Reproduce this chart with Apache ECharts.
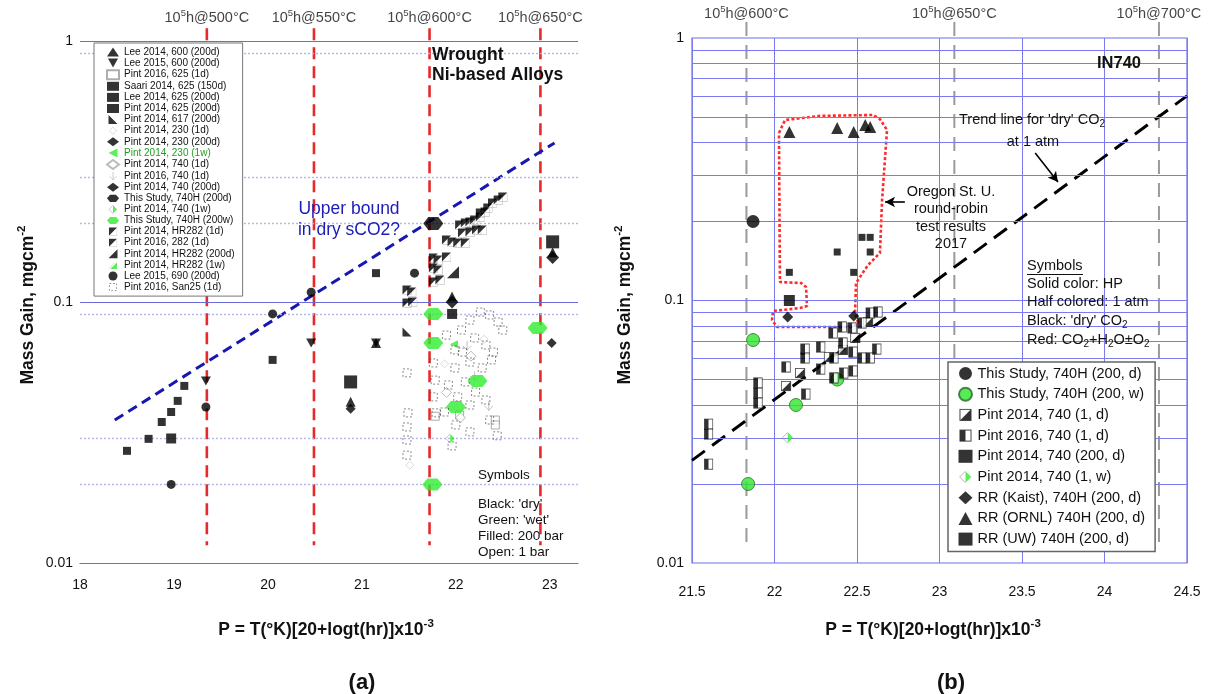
<!DOCTYPE html>
<html>
<head>
<meta charset="utf-8">
<script src="https://cdn.jsdelivr.net/npm/echarts@6/dist/echarts.min.js"></script>
<style>
  html, body { margin: 0; padding: 0; background: #fff; }
  #chart { width: 1209px; height: 694px; }
</style>
</head>
<body>
<div id="chart"></div>
<script>
const FONT = "'Liberation Sans', Arial, Helvetica, sans-serif";
const GREEN = '#2fec2f';

// ---------- Panel (a): wrought Ni-based alloys, [P, mass gain] ----------
const lee2014_600      = [[21.15, 0.0697], [20.88, 0.0415], [21.96, 0.105], [23.03, 0.155]];
const lee2015_600      = [[19.34, 0.0498], [20.46, 0.0697], [21.15, 0.0697]];
const pint2016_625_1d  = [[21.78, 0.0365], [22.04, 0.0369], [22.42, 0.0353], [22.42, 0.0338]];
const saari2014_625    = [[18.50, 0.0269], [18.73, 0.0299], [18.87, 0.0347], [18.97, 0.0379],
                          [19.04, 0.0418], [19.11, 0.0477], [20.05, 0.060], [21.15, 0.129]];
const lee2014_625      = [[18.97, 0.030], [21.96, 0.090]];
const pint2014_625     = [[20.88, 0.0494], [23.03, 0.170]];
const pint2014_617     = [[21.48, 0.0768]];
const pint2014_230_1d  = [[21.51, 0.0237], [22.30, 0.072], [21.88, 0.058]];
const pint2014_230_200d = [[20.88, 0.039], [23.02, 0.0697]];
const pint2014_230_1w  = [[21.98, 0.0689]];
const pint2014_740_1d  = [[21.90, 0.045], [22.16, 0.062], [22.05, 0.036]];
const pint2016_740_1d  = [[22.12, 0.068], [22.20, 0.052], [22.35, 0.040]];
const pint2014_740_200d = [[21.96, 0.100], [23.03, 0.148]];
const study740H_200d   = [[21.76, 0.200]];
const pint2014_740_1w  = [[21.94, 0.030]];
const study740H_200w   = [[21.76, 0.090], [21.76, 0.0697], [22.23, 0.0498], [22.00, 0.0396],
                          [22.87, 0.0795], [21.75, 0.020]];
const pint2014_hr282_1d = [[21.76, 0.1475], [21.81, 0.1449], [21.90, 0.1488], [21.76, 0.135],
                           [21.81, 0.1326], [21.76, 0.1193], [21.83, 0.1214], [21.48, 0.1112],
                           [21.53, 0.1092], [21.48, 0.0991], [21.54, 0.100]];
const pint2016_282_1d  = [[22.39, 0.2394], [22.45, 0.2459], [22.50, 0.2525], [22.26, 0.2193],
                          [22.31, 0.2212], [22.34, 0.2292], [22.15, 0.2025], [22.20, 0.2062],
                          [22.26, 0.2117], [22.04, 0.1972], [22.10, 0.2007], [22.07, 0.1838],
                          [22.15, 0.1854], [22.22, 0.1887], [22.28, 0.1887], [21.90, 0.1728],
                          [21.96, 0.1698], [22.02, 0.1683], [22.10, 0.1683]];
const pint2014_hr282_200d = [[21.97, 0.130]];
const pint2014_hr282_1w = [];
const lee2015_690      = [[18.97, 0.020], [19.34, 0.0396], [20.05, 0.090], [20.46, 0.109], [21.56, 0.129]];
const pint2016_san25   = [[21.48, 0.0535], [21.49, 0.0376], [21.48, 0.0332], [21.48, 0.0296],
                          [21.76, 0.0584], [21.78, 0.0502], [21.76, 0.0433], [21.79, 0.0376],
                          [21.90, 0.0747], [21.99, 0.0655], [22.06, 0.0781], [22.15, 0.0853],
                          [22.26, 0.0915], [22.36, 0.0892], [22.45, 0.0838], [22.50, 0.0781],
                          [22.20, 0.0728], [22.32, 0.0684], [22.40, 0.0643], [22.07, 0.0643],
                          [22.15, 0.0589], [22.28, 0.0559], [22.38, 0.060], [21.99, 0.0559],
                          [22.10, 0.0494], [22.21, 0.0452], [21.92, 0.0481], [22.02, 0.0433],
                          [22.15, 0.0403], [22.32, 0.0421], [21.88, 0.0379], [22.00, 0.0338],
                          [22.15, 0.0318], [22.36, 0.0353], [22.44, 0.0307], [21.96, 0.0281],
                          [21.48, 0.0259]];
const upperBoundDry    = [[18.37, 0.0353], [23.05, 0.407]];
const creepTempsA      = ['500', '550', '600', '650'];
const creepPA          = [19.35, 20.49, 21.72, 22.90];
const gridSolidA       = [1, 0.1];
const gridDottedA      = [0.9, 0.3, 0.2, 0.09, 0.03, 0.02];

// ---------- Panel (b): IN740 ----------
const studyB_dry    = [[21.87, 0.200]];
const studyB_wet    = [[21.87, 0.0707], [22.13, 0.040], [21.84, 0.020], [22.38, 0.050]];
const pintB_2014_1d = [[22.07, 0.0472], [22.155, 0.0529], [22.33, 0.0609], [22.415, 0.0648],
                       [22.49, 0.072], [22.567, 0.0828]];
const pintB_2016_1d = [[21.60, 0.0338], [21.60, 0.031], [21.60, 0.0238], [21.90, 0.0485],
                       [21.90, 0.0444], [21.90, 0.0407], [22.07, 0.0558], [22.19, 0.044],
                       [22.185, 0.0653], [22.185, 0.0604], [22.28, 0.0665], [22.28, 0.0548],
                       [22.36, 0.0604], [22.36, 0.0507], [22.42, 0.0529], [22.476, 0.0539],
                       [22.41, 0.0793], [22.355, 0.0752], [22.47, 0.0786], [22.415, 0.0689],
                       [22.476, 0.0636], [22.53, 0.0604], [22.58, 0.0604], [22.62, 0.0653],
                       [22.53, 0.0821], [22.58, 0.0896], [22.627, 0.0904]];
const pintB_2014_200d = [[22.09, 0.100]];
const pintB_2014_1w = [[22.08, 0.030]];
const rrKaist       = [[22.08, 0.0865], [22.48, 0.0873]];
const rrOrnl        = [[22.09, 0.438], [22.38, 0.454], [22.48, 0.438], [22.55, 0.466], [22.58, 0.458]];
const rrUw          = [[22.09, 0.128], [22.38, 0.153], [22.48, 0.128], [22.58, 0.153], [22.53, 0.174], [22.58, 0.174]];
const trendDry      = [[21.5, 0.0246], [24.5, 0.602]];
const rrRegion      = [[22.027, 0.4345], [22.064, 0.487], [22.276, 0.505], [22.597, 0.509],
                       [22.639, 0.491], [22.682, 0.446], [22.652, 0.2415], [22.639, 0.1517],
                       [22.567, 0.1365], [22.494, 0.1166], [22.488, 0.0896], [22.506, 0.0828],
                       [22.476, 0.0793], [22.015, 0.0793], [21.985, 0.0843], [21.991, 0.0912],
                       [22.155, 0.0936], [22.197, 0.0953], [22.191, 0.1126], [22.161, 0.1166],
                       [22.033, 0.1176], [22.027, 0.4345]];
const creepTempsB   = ['600', '650', '700'];
const creepPB       = [21.83, 23.09, 24.33];
const gridB         = [0.02, 0.03, 0.04, 0.05, 0.06, 0.07, 0.08, 0.09, 0.1,
                       0.2, 0.3, 0.4, 0.5, 0.6, 0.7, 0.8, 0.9];

// ---------- symbol shapes ----------
function svgIcon(body) {
  return 'image://data:image/svg+xml;charset=utf-8,' + encodeURIComponent(
    '<svg xmlns="http://www.w3.org/2000/svg" width="40" height="40" viewBox="0 0 20 20">' + body + '</svg>');
}
const SYM = {
  triDown: 'path://M0,0L10,0L5,9Z',
  hexagon: 'path://M5,0L15,0L20,6L15,12L5,12L0,6Z',
  triLL: 'path://M0,0L0,10L10,10Z',
  triLR: 'path://M10,0L10,10L0,10Z',
  triLeft: 'path://M10,0L0,5L10,10Z',
  dashSquare: svgIcon('<rect x="2" y="2" width="16" height="16" fill="none" stroke="#444" stroke-width="1.6" stroke-dasharray="4 4"/>'),
  thinArrow: svgIcon('<path d="M10 1V19M2 10L10 18L18 10" fill="none" stroke="#999" stroke-width="1.3"/>'),
  faintDiamond: svgIcon('<path d="M10 2L18 10L10 18L2 10Z" fill="none" stroke="#bbb" stroke-width="1.4"/>'),
  halfTriDark: svgIcon('<path d="M1 1H19L1 19Z" fill="#000"/><path d="M19 3V19H3" fill="none" stroke="#aaa" stroke-width="1.2"/>'),
  greenWedge: svgIcon('<path d="M19 4V19H4Z" fill="#2fec2f"/><path d="M1 19L13 5" stroke="#999" stroke-width="1"/>'),
  halfDiamondGreen: svgIcon('<path d="M10 1L19 10L10 19Z" fill="#2fec2f"/><path d="M10 1L1 10L10 19" fill="none" stroke="#999" stroke-width="1.4"/>'),
  halfDiag: svgIcon('<rect x="1.5" y="1.5" width="17" height="17" fill="#fff" stroke="#222" stroke-width="1.6"/><path d="M18.5 1.5V18.5H1.5Z" fill="#000"/>'),
  halfVert: svgIcon('<rect x="1.5" y="1.5" width="17" height="17" fill="#fff" stroke="#222" stroke-width="1.6"/><rect x="1.5" y="1.5" width="8.5" height="17" fill="#000"/>')
};

function pts(name, data, symbol, size, itemStyle, panel) {
  const s = {
    type: 'scatter', name, data, symbol, symbolSize: size,
    xAxisIndex: panel, yAxisIndex: panel, z: 5, silent: true,
    emphasis: { disabled: true }
  };
  if (itemStyle) s.itemStyle = itemStyle;
  return s;
}
function vline(x, top, bottom, lineStyle, panel) {
  return {
    type: 'line', data: [[x, top], [x, bottom]], symbol: 'none', clip: false,
    xAxisIndex: panel, yAxisIndex: panel, silent: true, z: 3, lineStyle
  };
}
const supRich = {
  n: { fontSize: 14.5, fontFamily: FONT, color: '#111', lineHeight: 18 },
  s: { fontSize: 9.5, fontFamily: FONT, color: '#111', verticalAlign: 'top' }
};
function creepLabels(xs, temps, panel, dist) {
  return {
    type: 'scatter', data: xs.map(x => [x, 1]), symbolSize: 1, clip: false,
    itemStyle: { color: 'rgba(0,0,0,0)' }, xAxisIndex: panel, yAxisIndex: panel, silent: true, z: 6,
    label: {
      show: true, position: 'top', distance: dist, rich: supRich,
      formatter: p => '{n|10}{s|5}{n|h@' + temps[p.dataIndex] + '°C}'
    }
  };
}

const panelASeries = [
  pts('Lee 2014, 600 (200d)', lee2014_600, 'triangle', 10, { color: '#000' }, 0),
  pts('Lee 2015, 600 (200d)', lee2015_600, SYM.triDown, [10, 9], { color: '#000' }, 0),
  pts('Pint 2016, 625 (1d)', pint2016_625_1d, 'rect', 8, { color: '#fff', borderColor: '#999', borderWidth: 1 }, 0),
  pts('Saari 2014, 625 (150d)', saari2014_625, 'rect', 8, { color: '#000' }, 0),
  pts('Lee 2014, 625 (200d)', lee2014_625, 'rect', 10, { color: '#000' }, 0),
  pts('Pint 2014, 625 (200d)', pint2014_625, 'rect', 13, { color: '#000' }, 0),
  pts('Pint 2014, 617 (200d)', pint2014_617, SYM.triLL, 9, { color: '#000' }, 0),
  pts('Pint 2014, 230 (1d)', pint2014_230_1d, SYM.faintDiamond, 10, null, 0),
  pts('Pint 2014, 230 (200d)', pint2014_230_200d, 'diamond', 10, { color: '#000' }, 0),
  pts('Pint 2014, 230 (1w)', pint2014_230_1w, SYM.triLeft, 8, { color: GREEN }, 0),
  pts('Pint 2014, 740 (1d)', pint2014_740_1d, 'diamond', 10, { color: '#fff', borderColor: '#aaa', borderWidth: 1 }, 0),
  pts('Pint 2016, 740 (1d)', pint2016_740_1d, SYM.thinArrow, 11, null, 0),
  pts('Pint 2014, 740 (200d)', pint2014_740_200d, 'diamond', 13, { color: '#000' }, 0),
  pts('This Study, 740H (200d)', study740H_200d, SYM.hexagon, [20, 13], { color: '#000' }, 0),
  pts('Pint 2014, 740 (1w)', pint2014_740_1w, SYM.halfDiamondGreen, 10, null, 0),
  pts('This Study, 740H (200w)', study740H_200w, SYM.hexagon, [20, 12], { color: GREEN }, 0),
  pts('Pint 2014, HR282 (1d)', pint2014_hr282_1d, SYM.halfTriDark, 10, null, 0),
  pts('Pint 2016, 282 (1d)', pint2016_282_1d, SYM.halfTriDark, 10, null, 0),
  pts('Pint 2014, HR282 (200d)', pint2014_hr282_200d, SYM.triLR, 12, { color: '#000' }, 0),
  pts('Pint 2014, HR282 (1w)', pint2014_hr282_1w, SYM.greenWedge, 11, null, 0),
  pts('Lee 2015, 690 (200d)', lee2015_690, 'circle', 9, { color: '#000' }, 0),
  pts('Pint 2016, San25 (1d)', pint2016_san25, SYM.dashSquare, 10, null, 0)
];
const panelBSeries = [
  pts('This Study, 740H (200, d)', studyB_dry, 'circle', 13, { color: '#000' }, 1),
  pts('This Study, 740H (200, w)', studyB_wet, 'circle', 13, { color: '#2ee62e', borderColor: '#2a6a2a', borderWidth: 1 }, 1),
  pts('Pint 2014, 740 (1, d)', pintB_2014_1d, SYM.halfDiag, 11, null, 1),
  pts('Pint 2016, 740 (1, d)', pintB_2016_1d, SYM.halfVert, [10, 12], null, 1),
  pts('Pint 2014, 740 (200, d)', pintB_2014_200d, 'rect', 11, { color: '#000' }, 1),
  pts('Pint 2014, 740 (1, w)', pintB_2014_1w, SYM.halfDiamondGreen, 12, null, 1),
  pts('RR (Kaist), 740H (200, d)', rrKaist, 'diamond', 11, { color: '#000' }, 1),
  pts('RR (ORNL) 740H (200, d)', rrOrnl, 'triangle', 12, { color: '#000' }, 1),
  pts('RR (UW) 740H (200, d)', rrUw, 'rect', 7, { color: '#000' }, 1)
];

const axisLabelStyle = { fontSize: 14, color: '#111', fontFamily: FONT };
const logFmt = v => String(+(+v).toPrecision(1));

const option = {
  animation: false,
  backgroundColor: '#fff',
  textStyle: { fontFamily: FONT },
  grid: [
    { left: 80, top: 41, width: 498, height: 522, outerBoundsMode: 'none', containLabel: false },
    { left: 692, top: 38, width: 495, height: 525, outerBoundsMode: 'none', containLabel: false,
      show: true, borderColor: '#6f6fe6', borderWidth: 1.2, backgroundColor: 'transparent' }
  ],
  xAxis: [
    { type: 'value', gridIndex: 0, min: 18, max: 23.3, interval: 1,
      axisLine: { show: true, lineStyle: { color: '#6c6cd8', width: 1.2 } },
      axisTick: { show: false }, splitLine: { show: false },
      axisLabel: Object.assign({ margin: 15, showMaxLabel: false }, axisLabelStyle) },
    { type: 'value', gridIndex: 1, min: 21.5, max: 24.5, interval: 0.5,
      axisLine: { show: false }, axisTick: { show: false },
      splitLine: { show: true, lineStyle: { color: '#7b7bef', width: 1 } },
      axisLabel: Object.assign({ margin: 22 }, axisLabelStyle) }
  ],
  yAxis: [
    { type: 'log', logBase: 10, gridIndex: 0, min: 0.01, max: 1,
      axisLine: { show: false }, axisTick: { show: false }, splitLine: { show: false },
      axisLabel: Object.assign({ margin: 7, formatter: logFmt }, axisLabelStyle) },
    { type: 'log', logBase: 10, gridIndex: 1, min: 0.01, max: 1,
      axisLine: { show: false }, axisTick: { show: false }, splitLine: { show: false },
      axisLabel: Object.assign({ margin: 8, formatter: logFmt }, axisLabelStyle) }
  ],
  legend: [
    { orient: 'vertical', left: 94, top: 43, z: 20, selectedMode: false,
      itemWidth: 12, itemHeight: 9, itemGap: 1.1, padding: [4, 8, 4, 12],
      borderColor: '#777', borderWidth: 1, backgroundColor: '#fff',
      textStyle: { fontSize: 10, lineHeight: 10, color: '#111', fontFamily: FONT },
      data: panelASeries.map(s => s.name === 'Pint 2014, 230 (1w)'
        ? { name: s.name, textStyle: { color: '#1f9f1f' } } : s.name) },
    { orient: 'vertical', left: 948, top: 362, z: 20, selectedMode: false,
      itemWidth: 14, itemHeight: 13, itemGap: 5.7, padding: [4, 10, 5, 10],
      borderColor: '#666', borderWidth: 1.5, backgroundColor: '#fff',
      textStyle: { fontSize: 14.5, lineHeight: 14, color: '#111', fontFamily: FONT },
      data: panelBSeries.map(s => s.name) }
  ],
  series: [
    // horizontal grid lines, panel (a)
    { type: 'line', xAxisIndex: 0, yAxisIndex: 0, data: [[18, 0.5]], symbol: 'none', silent: true, z: 1,
      lineStyle: { opacity: 0 },
      markLine: { silent: true, symbol: ['none', 'none'], label: { show: false }, animation: false,
        data: gridSolidA.map(v => ({ yAxis: v, lineStyle: { color: '#6c6cd8', width: 1.2, type: 'solid' } }))
          .concat(gridDottedA.map(v => ({ yAxis: v, lineStyle: { color: '#b6b6ee', width: 1.4, type: [2, 2] } }))) } },
    // horizontal grid lines, panel (b)
    { type: 'line', xAxisIndex: 1, yAxisIndex: 1, data: [[22, 0.5]], symbol: 'none', silent: true, z: 1,
      lineStyle: { opacity: 0 },
      markLine: { silent: true, symbol: ['none', 'none'], label: { show: false }, animation: false,
        lineStyle: { color: '#7b7bef', width: 1, type: 'solid' },
        data: gridB.map(v => ({ yAxis: v })) } },
    // 10^5 h creep-life reference lines
    ...creepPA.map(x => vline(x, 1.12, 0.0117, { color: '#e52a2a', width: 2.6, type: [12, 7] }, 0)),
    ...creepPB.map(x => vline(x, 1.15, 0.0117, { color: '#9a9a9a', width: 2, type: [14, 9] }, 1)),
    creepLabels(creepPA, creepTempsA, 0, 14),
    creepLabels(creepPB, creepTempsB, 1, 15),
    // upper bound in dry sCO2
    { type: 'line', xAxisIndex: 0, yAxisIndex: 0, data: upperBoundDry, symbol: 'none', silent: true, z: 4,
      lineStyle: { color: '#1717b2', width: 3, type: [10, 6] } },
    // round-robin region
    { type: 'line', xAxisIndex: 1, yAxisIndex: 1, data: rrRegion, symbol: 'none', silent: true, z: 3,
      lineStyle: { color: '#ff2b2b', width: 2.6, type: [3, 2.2] } },
    // dry CO2 trend line and pointer arrows
    { type: 'line', xAxisIndex: 1, yAxisIndex: 1, data: trendDry, symbol: 'none', silent: true, z: 4,
      lineStyle: { color: '#000', width: 3, type: [16, 9] },
      markLine: { silent: true, symbol: ['none', 'arrow'], symbolSize: [8, 10], label: { show: false },
        animation: false, lineStyle: { color: '#000', width: 1.6, type: 'solid' },
        data: [
          [{ coord: [23.58, 0.3646] }, { coord: [23.718, 0.2828] }],
          [{ coord: [22.79, 0.2373] }, { coord: [22.67, 0.2373] }]
        ] } },
    ...panelASeries,
    ...panelBSeries
  ],
  graphic: { elements: [] }
};

// ---------- free text ----------
function txt(x, y, text, style, extra) {
  return Object.assign({ type: 'text', x, y, silent: true, z: 30,
    style: Object.assign({ text, fontFamily: FONT, fontSize: 13, fill: '#111',
      align: 'left', verticalAlign: 'middle' }, style || {}) }, extra || {});
}
const titleRich = {
  b: { fontSize: 17.5, fontWeight: 'bold', fontFamily: FONT, color: '#111', lineHeight: 24 },
  sup: { fontSize: 11.5, fontWeight: 'bold', fontFamily: FONT, color: '#111', verticalAlign: 'top' }
};
const subRich = {
  t: { fontSize: 14.5, fontFamily: FONT, color: '#111', lineHeight: 18 },
  s: { fontSize: 10, fontFamily: FONT, color: '#111', verticalAlign: 'bottom' }
};
const G = option.graphic.elements;
// axis titles
G.push(txt(28, 305, '{b|Mass Gain, mgcm}{sup|-2}', { rich: titleRich, align: 'center' }, { rotation: Math.PI / 2 }));
G.push(txt(625, 305, '{b|Mass Gain, mgcm}{sup|-2}', { rich: titleRich, align: 'center' }, { rotation: Math.PI / 2 }));
G.push(txt(326, 630, '{b|P = T(°K)[20+logt(hr)]x10}{sup|-3}', { rich: titleRich, align: 'center' }));
G.push(txt(933, 630, '{b|P = T(°K)[20+logt(hr)]x10}{sup|-3}', { rich: titleRich, align: 'center' }));
G.push(txt(362, 683, '(a)', { fontSize: 22, fontWeight: 'bold', align: 'center' }));
G.push(txt(951, 683, '(b)', { fontSize: 22, fontWeight: 'bold', align: 'center' }));
// panel (a) notes
G.push(txt(432, 55, 'Wrought', { fontSize: 17.5, fontWeight: 'bold' }));
G.push(txt(432, 75, 'Ni-based Alloys', { fontSize: 17.5, fontWeight: 'bold' }));
G.push(txt(349, 209, 'Upper bound', { fontSize: 17.5, fill: '#1c1cb8', align: 'center' }));
G.push(txt(349, 230, 'in dry sCO2?', { fontSize: 17.5, fill: '#1c1cb8', align: 'center' }));
[['Symbols', 475], ["Black: 'dry'", 504], ["Green: 'wet'", 520], ['Filled: 200 bar', 536], ['Open: 1 bar', 552]]
  .forEach(([t, y]) => G.push(txt(478, y, t, { fontSize: 13.5 })));
// panel (b) notes
G.push(txt(1119, 63, 'IN740', { fontSize: 16.5, fontWeight: 'bold', align: 'center' }));
G.push(txt(1032, 120, "{t|Trend line for 'dry' CO}{s|2}", { rich: subRich, align: 'center' }));
G.push(txt(1033, 142, 'at 1 atm', { fontSize: 14.5, align: 'center' }));
[['Oregon St. U.', 192], ['round-robin', 209], ['test results', 227], ['2017', 244]]
  .forEach(([t, y]) => G.push(txt(951, y, t, { fontSize: 14.5, align: 'center' })));
G.push(txt(1027, 266, 'Symbols', { fontSize: 14.5 }));
G.push({ type: 'line', silent: true, z: 30, shape: { x1: 1027, y1: 274.5, x2: 1083, y2: 274.5 }, style: { stroke: '#111', lineWidth: 1 } });
G.push(txt(1027, 284, 'Solid color: HP', { fontSize: 14.5 }));
G.push(txt(1027, 302, 'Half colored: 1 atm', { fontSize: 14.5 }));
G.push(txt(1027, 321, "{t|Black: 'dry' CO}{s|2}", { rich: subRich }));
G.push(txt(1027, 340, '{t|Red: CO}{s|2}{t|+H}{s|2}{t|O±O}{s|2}', { rich: subRich }));

const chart = echarts.init(document.getElementById('chart'), null, { renderer: 'canvas' });
chart.setOption(option);
</script>
</body>
</html>
